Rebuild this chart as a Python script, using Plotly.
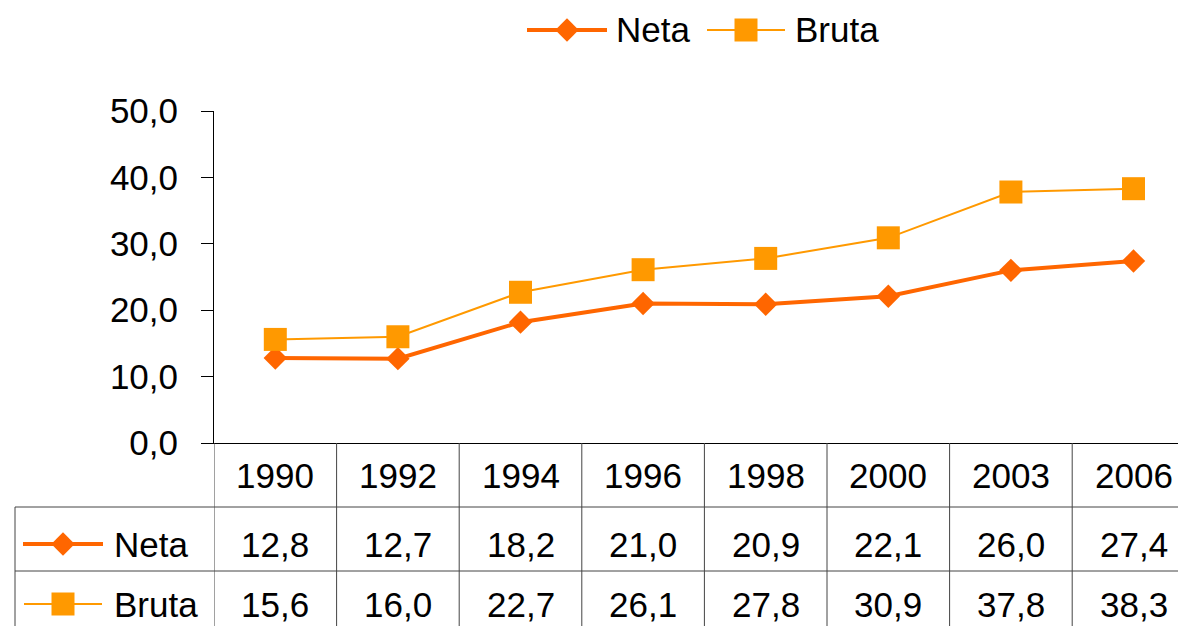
import plotly.graph_objects as go

years = ["1990", "1992", "1994", "1996", "1998", "2000", "2003", "2006"]
neta = [12.8, 12.7, 18.2, 21.0, 20.9, 22.1, 26.0, 27.4]
bruta = [15.6, 16.0, 22.7, 26.1, 27.8, 30.9, 37.8, 38.3]

W, H = 1178, 626
FONT = "Liberation Sans, Arial, sans-serif"
FS = 35
NETA_C = "#FF6600"
BRUTA_C = "#FF9900"
GRID_C = "#444444"


def py(y):
    return 1 - y / H


def px(x):
    return x / W


def fmt(v):
    return f"{v:.1f}".replace(".", ",")


fig = go.Figure()

# main series
fig.add_trace(go.Scatter(
    x=years, y=neta, name="Neta", mode="lines+markers",
    line=dict(color=NETA_C, width=4),
    marker=dict(symbol="diamond", size=18, color=NETA_C),
    xaxis="x", yaxis="y",
))
fig.add_trace(go.Scatter(
    x=years, y=bruta, name="Bruta", mode="lines+markers",
    line=dict(color=BRUTA_C, width=2),
    marker=dict(symbol="square", size=23, color=BRUTA_C),
    xaxis="x", yaxis="y",
))

# legend glyphs (top legend + table row labels) on a full-figure overlay axis
glyphs = [
    ("Neta", NETA_C, 4, "diamond", 18, 527, 607, 30, 614),
    ("Bruta", BRUTA_C, 2, "square", 23, 707, 785, 30, 793),
    ("Neta", NETA_C, 4, "diamond", 18, 23, 103, 544, 112),
    ("Bruta", BRUTA_C, 2, "square", 23, 24, 102, 604, 112),
]
annotations = []
for name, col, lw, sym, ms, x0, x1, yc, tx in glyphs:
    fig.add_trace(go.Scatter(
        x=[x0, (x0 + x1) / 2, x1], y=[yc, yc, yc], mode="lines",
        line=dict(color=col, width=lw), xaxis="x2", yaxis="y2",
        hoverinfo="skip", showlegend=False,
    ))
    fig.add_trace(go.Scatter(
        x=[(x0 + x1) / 2], y=[yc], mode="markers",
        marker=dict(symbol=sym, size=ms, color=col), xaxis="x2", yaxis="y2",
        hoverinfo="skip", showlegend=False,
    ))
    annotations.append(dict(
        x=px(tx), y=py(yc), xref="paper", yref="paper", text=name,
        showarrow=False, xanchor="left", yanchor="middle",
        font=dict(size=FS, color="black", family=FONT),
    ))

# data table below the plot (x given as category index on the x axis)
rows = [(years, 475), ([fmt(v) for v in neta], 544), ([fmt(v) for v in bruta], 604)]
for labels, yc in rows:
    for i, lab in enumerate(labels):
        annotations.append(dict(
            x=i, y=py(yc), xref="x", yref="paper", text=lab,
            showarrow=False, xanchor="center", yanchor="middle",
            font=dict(size=FS, color="black", family=FONT),
        ))

shapes = []
for i in range(len(years) + 1):
    shapes.append(dict(type="line", xref="x", yref="paper",
                       x0=i - 0.5, x1=i - 0.5, y0=py(443), y1=0,
                       line=dict(color=GRID_C, width=1)))
for yl in (507, 571):
    shapes.append(dict(type="line", xref="paper", yref="paper",
                       x0=px(15), x1=1, y0=py(yl), y1=py(yl),
                       line=dict(color=GRID_C, width=1)))
shapes.append(dict(type="line", xref="paper", yref="paper",
                   x0=px(15), x1=px(15), y0=py(507), y1=0,
                   line=dict(color=GRID_C, width=1)))

ncat_visible = (W - 214) / 122.6

fig.update_layout(
    width=W, height=H,
    margin=dict(l=0, r=0, t=0, b=0, pad=0, autoexpand=False),
    paper_bgcolor="white", plot_bgcolor="rgba(0,0,0,0)",
    separators=",.",
    showlegend=False,
    font=dict(family=FONT, size=FS, color="black"),
    xaxis=dict(
        type="category", domain=[px(214), 1], range=[-0.5, -0.5 + ncat_visible],
        showticklabels=False, ticks="", showgrid=False, zeroline=False,
        showline=True, linecolor="black", linewidth=1, anchor="y",
        automargin=False,
    ),
    yaxis=dict(
        domain=[py(443), py(111)], range=[0, 50], dtick=10, tickformat=".1f",
        ticks="outside", ticklen=12, tickcolor="black", ticklabelstandoff=16,
        showgrid=False, zeroline=False, showline=True, linecolor="black",
        linewidth=1, tickfont=dict(size=FS, family=FONT), anchor="x",
        automargin=False,
    ),
    xaxis2=dict(domain=[0, 1], range=[0, W], visible=False, fixedrange=True,
                anchor="y2", automargin=False),
    yaxis2=dict(domain=[0, 1], range=[H, 0], visible=False, fixedrange=True,
                anchor="x2", automargin=False),
    annotations=annotations,
    shapes=shapes,
)

fig.write_html(
    "out.html",
    config={"displayModeBar": False},
    post_script="document.body.style.margin='0';document.body.style.overflow='hidden';",
)
